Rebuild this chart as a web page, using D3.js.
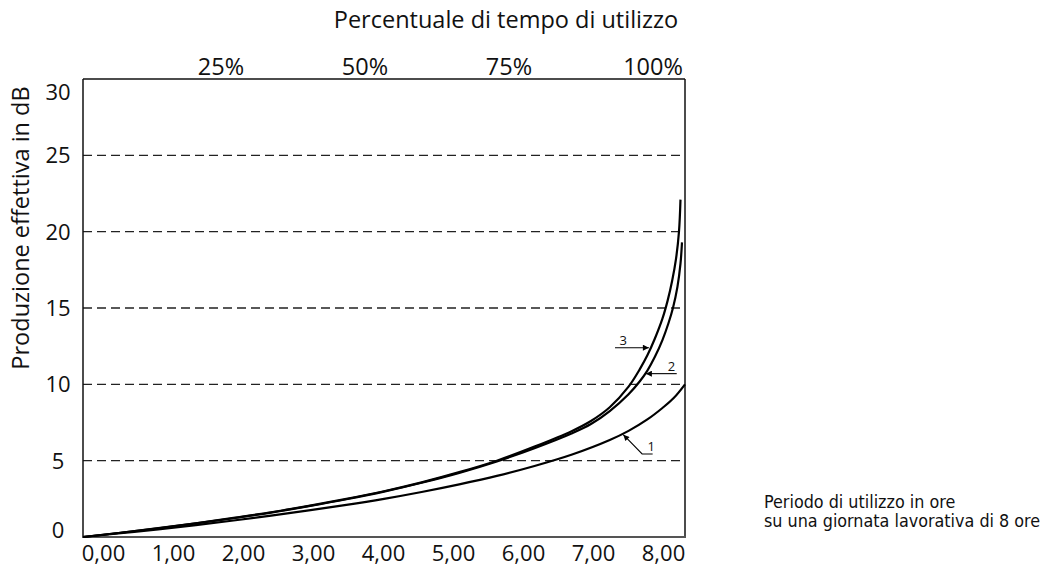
<!DOCTYPE html>
<html>
<head>
<meta charset="utf-8">
<script src="https://cdn.jsdelivr.net/npm/d3@7/dist/d3.min.js"></script>
<style>
  body { margin: 0; background: #fff; }
  svg text { font-family: "Open Sans", "DejaVu Sans", sans-serif; fill: #111; }
  .note { font-family: "Liberation Sans Narrow", "DejaVu Sans Condensed", sans-serif; }
</style>
</head>
<body>
<svg id="chart" width="1043" height="568"></svg>
<script>
// Effective attenuation vs. hours of use (8h working day)

var HOUR_TICKS = [0, 1, 2, 3, 4, 5, 6, 7, 8];
var PCT_TICKS = [25, 50, 75, 100];
var DB_TICKS = [0, 5, 10, 15, 20, 25, 30];
var DB_GRID = [5, 10, 15, 20, 25];

// curve 1
var HOURS_1 = [0, 0.5, 1, 1.5, 2, 2.5, 3, 3.5, 4, 4.5, 5, 5.5, 6, 6.5, 7, 7.25, 7.5, 7.7, 7.85, 8];
var DB_1    = [0, 0.25, 0.5, 0.78, 1.08, 1.4, 1.74, 2.1, 2.5, 2.95, 3.45, 4.0, 4.65, 5.4, 6.35, 6.95, 7.7, 8.45, 9.1, 10];

// curve 2
var HOURS_2 = [0, 0.5, 1, 1.5, 2, 2.5, 3, 3.5, 4, 4.5, 5, 5.5, 6, 6.5, 6.75, 7, 7.25, 7.4, 7.5, 7.6, 7.7, 7.78, 7.84, 7.9, 7.94, 7.96];
var DB_2    = [0, 0.28, 0.57, 0.89, 1.23, 1.6, 2.02, 2.47, 2.97, 3.55, 4.2, 4.95, 5.82, 6.8, 7.4, 8.25, 9.35, 10.2, 10.9, 11.8, 12.9, 14.0, 15.0, 16.4, 17.9, 19.3];

// curve 3
var HOURS_3 = [0, 0.5, 1, 1.5, 2, 2.5, 3, 3.5, 4, 4.5, 5, 5.5, 6, 6.5, 6.75, 7, 7.25, 7.4, 7.5, 7.6, 7.7, 7.77, 7.83, 7.88, 7.92, 7.94];
var DB_3    = [0, 0.28, 0.58, 0.9, 1.25, 1.62, 2.04, 2.5, 3.0, 3.58, 4.25, 5.0, 5.92, 6.95, 7.6, 8.5, 9.85, 11.0, 11.9, 13.0, 14.3, 15.5, 16.8, 18.2, 20.0, 22.1];

// callouts: label, tail (hours, dB), optional elbow, arrow tip
var CALLOUTS = [
  { label: '3', tail: [7.07, 12.4], elbow: null, tip: [7.52, 12.4], labelAt: [7.13, 12.6] },
  { label: '2', tail: [7.89, 10.7], elbow: null, tip: [7.48, 10.7], labelAt: [7.77, 10.9] },
  { label: '1', tail: [7.57, 5.44], elbow: [7.43, 5.44], tip: [7.18, 6.7], labelAt: [7.5, 5.64] }
];

var W = 1043, H = 568;
var svg = d3.select('#chart');

var x = d3.scaleLinear().domain([0, 8]).range([83, 685]);
var y = d3.scaleLinear().domain([0, 30]).range([537, 79]);
// tick labels in the original sit on their own evenly spaced grid
var xLab = d3.scaleLinear().domain([0, 8]).range([103, 663]);
var pctLab = d3.scaleLinear().domain([25, 100]).range([221, 653]);

// dashed gridlines
svg.append('g').selectAll('line')
  .data(DB_GRID)
  .enter().append('line')
  .attr('x1', x(0)).attr('x2', x(8))
  .attr('y1', function(d){ return y(d); })
  .attr('y2', function(d){ return y(d); })
  .attr('stroke', '#222')
  .attr('stroke-width', 1.3)
  .attr('stroke-dasharray', '9,5');

// frame
var frame = svg.append('g').attr('stroke', '#111').attr('stroke-width', 1.5);
frame.append('line').attr('x1', x(0)).attr('x2', x(0)).attr('y1', y(30)).attr('y2', y(0));
frame.append('line').attr('x1', x(8)).attr('x2', x(8)).attr('y1', y(30)).attr('y2', y(0));
frame.append('line').attr('x1', x(0)).attr('x2', x(8)).attr('y1', y(30)).attr('y2', y(30));
svg.append('line')
  .attr('x1', x(0) - 1).attr('x2', x(8) + 1).attr('y1', y(0)).attr('y2', y(0))
  .attr('stroke', '#555').attr('stroke-width', 2.2);

// curves
var line = d3.line()
  .x(function(d){ return x(d[0]); })
  .y(function(d){ return y(d[1]); })
  .curve(d3.curveCatmullRom.alpha(0.5));

[[HOURS_1, DB_1], [HOURS_2, DB_2], [HOURS_3, DB_3]].forEach(function(c){
  var pts = c[0].map(function(h, i){ return [h, c[1][i]]; });
  svg.append('path')
    .attr('d', line(pts))
    .attr('fill', 'none')
    .attr('stroke', '#000')
    .attr('stroke-width', 2.2);
});

// arrow marker
svg.append('defs').append('marker')
  .attr('id', 'arr')
  .attr('viewBox', '0 0 10 10')
  .attr('refX', 10).attr('refY', 5)
  .attr('markerWidth', 9).attr('markerHeight', 6)
  .attr('markerUnits', 'userSpaceOnUse')
  .attr('orient', 'auto')
  .append('path').attr('d', 'M0,0L10,5L0,10Z').attr('fill', '#000');

CALLOUTS.forEach(function(c){
  var pts = [c.tail];
  if(c.elbow) pts.push(c.elbow);
  pts.push(c.tip);
  svg.append('polyline')
    .attr('points', pts.map(function(p){ return x(p[0]) + ',' + y(p[1]); }).join(' '))
    .attr('fill', 'none')
    .attr('stroke', '#000')
    .attr('stroke-width', 1.1)
    .attr('marker-end', 'url(#arr)');
  svg.append('text')
    .attr('x', x(c.labelAt[0]))
    .attr('y', y(c.labelAt[1]))
    .attr('font-size', 13)
    .text(c.label);
});

// bottom hour labels
var xAxis = svg.append('g')
  .attr('transform', 'translate(0,561)')
  .call(d3.axisBottom(xLab).tickValues(HOUR_TICKS).tickSize(0)
    .tickFormat(function(d){ return d.toFixed(2).replace('.', ','); }));
xAxis.select('.domain').remove();
xAxis.attr('font-family', null).attr('font-size', null);
xAxis.selectAll('text').attr('font-size', 22).attr('y', 0).attr('dy', 0).attr('fill', '#111');

// top percentage labels
svg.append('g').selectAll('text')
  .data(PCT_TICKS)
  .enter().append('text')
  .attr('x', function(d){ return pctLab(d); })
  .attr('y', 75)
  .attr('text-anchor', 'middle')
  .attr('font-size', 23.5)
  .text(function(d){ return d + '%'; });

// dB labels
svg.append('g').selectAll('text')
  .data(DB_TICKS)
  .enter().append('text')
  .attr('x', 58)
  .attr('y', function(d){ return Math.max(92, Math.min(530, y(d))); })
  .attr('dy', '0.36em')
  .attr('text-anchor', 'middle')
  .attr('font-size', 22)
  .text(function(d){ return d; });

// titles
svg.append('text')
  .attr('x', 506).attr('y', 28)
  .attr('text-anchor', 'middle')
  .attr('font-size', 23.5)
  .text('Percentuale di tempo di utilizzo');

svg.append('text')
  .attr('transform', 'translate(21,228) rotate(-90)')
  .attr('dy', '0.36em')
  .attr('text-anchor', 'middle')
  .attr('font-size', 23.5)
  .text('Produzione effettiva in dB');

var note = svg.append('text').attr('class', 'note').attr('font-size', 17.8);
note.append('tspan').attr('x', 764).attr('y', 508).text('Periodo di utilizzo in ore');
note.append('tspan').attr('x', 764).attr('y', 527).text('su una giornata lavorativa di 8 ore');
</script>
</body>
</html>
